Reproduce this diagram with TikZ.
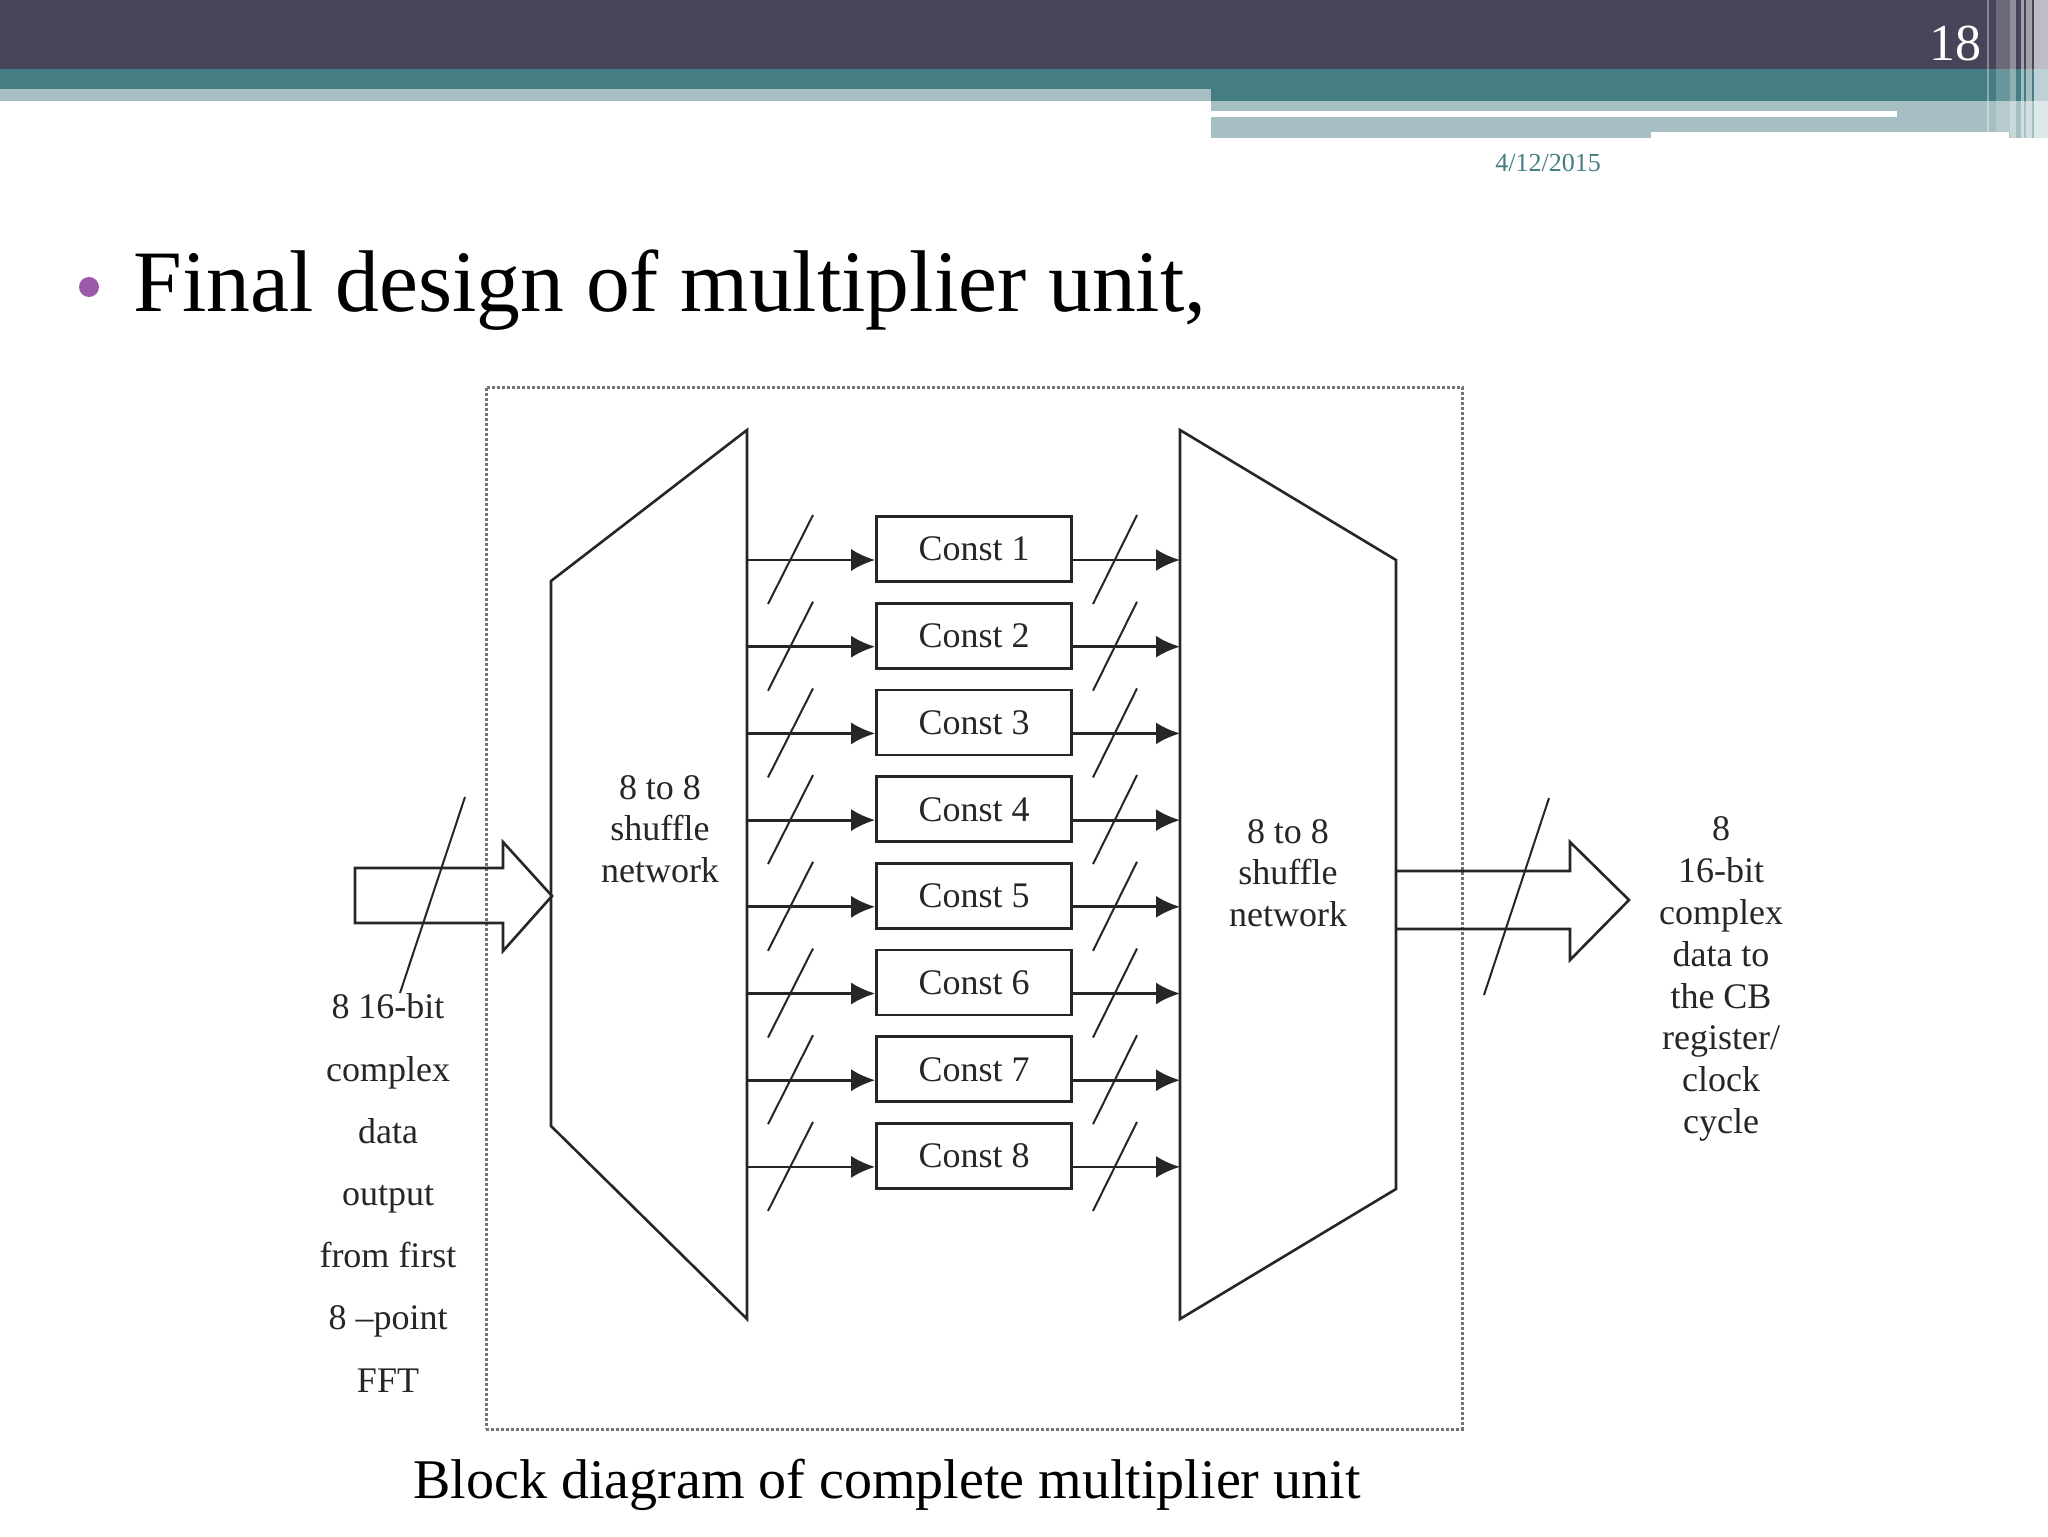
\documentclass[tikz,border=0pt]{standalone}
\usepackage{fontspec}
\setmainfont{Liberation Serif}
\usepackage{tikz}
\usetikzlibrary{
  arrows.meta,
  positioning,
  calc
}
\definecolor{slatebar}{HTML}{474459}
\definecolor{tealbar}{HTML}{457D85}
\definecolor{palebar}{HTML}{A5BFC3}
\definecolor{bulletmark}{HTML}{9B59A8}
\tikzset{
  labeltext/.style={
    font=\fontsize{18}{20.9}\selectfont,
    text=black!85,
    align=center,
    inner sep=0pt,
  },
  shufflebox/.style={
    draw=black!85,
    line width=1.3pt,
    line join=miter,
  },
  constbox/.style={
    labeltext,
    draw=black!85,
    line width=1.3pt,
    minimum width=97.5pt,
    minimum height=32.5pt,
  },
  edge/.style={
    ->,
    >={Latex[length=12pt,width=11pt]},
    draw=black!85,
    line width=1.4pt,
  },
  busmark/.style={
    draw=black!85,
    line width=1pt,
  },
  slideline/.style={
    inner sep=0pt,
    anchor=base,
  },
}

\begin{document}
\begin{tikzpicture}[x=0.5pt,y=-0.5pt]
	\useasboundingbox (0,0) rectangle (2048,1536);
	\fill[white] (0,0) rectangle (2048,1536);

	% slide header
	\fill[slatebar] (0,0) rectangle (2048,69);
	\fill[tealbar] (0,69) rectangle (2048,101);
	\fill[palebar] (0,89) rectangle (1211,101);
	\fill[palebar] (1211,101) rectangle (2048,138);
	\fill[white] (1211,111) rectangle (1897,117);
	\fill[white] (1651,132) rectangle (2009,138);
	\foreach \xa/\xb/\tint/\yb in {1987/1989/0.35/132,1996/2010/0.2/132,2010/2016/0.4/138,2021/2024/0.5/138,2026/2032/0.5/138,2034/2048/0.65/138} {
		\fill[white,opacity=\tint] (\xa,0) rectangle (\xb,\yb);
	}
	\node[slideline,text=white,font=\fontsize{26}{26}\selectfont] (pagenum) at (1955,61) {18};
	\node[slideline,text=tealbar,font=\fontsize{13}{13}\selectfont] (datestamp) at (1548,171) {4/12/2015};

	% title and caption
	\node[circle,fill=bulletmark,minimum size=10pt,inner sep=0pt] (bullet) at (89,287) {};
	\node[slideline,anchor=base west,font=\fontsize{43.8}{43.8}\selectfont] (title) at (133,311) {Final design of multiplier unit,};
	\node[slideline,font=\fontsize{28}{28}\selectfont] (caption) at (887,1498) {Block diagram of complete multiplier unit};

	% outer frame
	\node[draw=black!55,densely dotted,line width=1.5pt,minimum width=488pt,minimum height=521pt,inner sep=0pt] (frame) at (974,908) {};

	% shuffle networks
	\draw[shufflebox] (551,581) coordinate (la) -- (747,430) coordinate (lb) -- (747,1319) coordinate (lc) -- (551,1126) coordinate (ld) -- cycle;
	\draw[shufflebox] (1180,430) coordinate (ra) -- (1396,560) coordinate (rb) -- (1396,1189) coordinate (rc) -- (1180,1319) coordinate (rd) -- cycle;
	\node[labeltext] (lnet) at (660,829) {8 to 8\\shuffle\\network};
	\node[labeltext] (rnet) at (1288,873) {8 to 8\\shuffle\\network};

	% const rows
	\foreach \i in {1,...,8} {
		\node[constbox,text depth=0pt] (c\i) at (974,{549+86.7*(\i-1)}) {Const \i};
		\coordinate (lo\i) at (747,{560+86.7*(\i-1)});
		\coordinate (ri\i) at (1180,{560+86.7*(\i-1)});
		\draw[edge] (lo\i) -- (c\i.west|-lo\i);
		\draw[edge] (c\i.east|-ri\i) -- (ri\i);
		\draw[busmark] ($(lo\i)+(21,44)$) -- ($(lo\i)+(66,-45)$);
		\draw[busmark] ($(ri\i)+(-87,44)$) -- ($(ri\i)+(-43,-45)$);
	}

	% wide input arrow
	\draw[shufflebox] (355,868) coordinate (ina) -- (503,868) -- (503,842) -- (552,896) coordinate (intip) -- (503,951) -- (503,923) -- (355,923) -- cycle;
	\coordinate (inmarka) at (465,797);
	\coordinate (inmarkb) at (400,993);
	\draw[busmark] (inmarka) -- (inmarkb);

	% wide output arrow
	\draw[shufflebox] (rb|-0,871) -- (1570,871) -- (1570,842) -- (1629,900) coordinate (outtip) -- (1570,960) -- (1570,929) -- (rb|-0,929);
	\coordinate (outmarka) at (1549,798);
	\coordinate (outmarkb) at (1484,995);
	\draw[busmark] (outmarka) -- (outmarkb);

	% side labels
	\node[labeltext,font=\fontsize{18}{31.1}\selectfont] (inlabel) at (388,1193) {8 16-bit\\complex\\data\\output\\from first\\8 --point\\FFT};
	\node[labeltext] (outlabel) at (1721,979) {8\\16-bit\\complex\\data to\\the CB\\register/\\clock\\cycle};

\end{tikzpicture}
\end{document}
